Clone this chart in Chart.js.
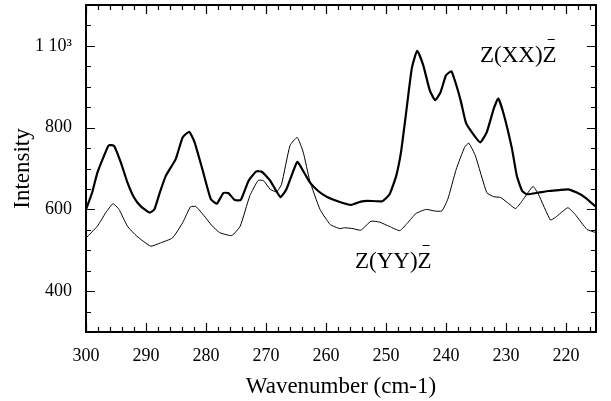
<!DOCTYPE html>
<html>
<head>
<meta charset="utf-8">
<script src="https://cdn.jsdelivr.net/npm/chart.js@4"></script>
<style>
html,body{margin:0;padding:0;background:#fff;}
#wrap{width:611px;height:401px;position:relative;}
</style>
</head>
<body>
<div id="wrap"><canvas id="c"></canvas></div>
<script>
// ---- data ----
const xxWave = [300.0,299.0,298.1,297.0,296.2,295.3,294.2,293.1,292.0,290.9,289.4,288.6,287.7,286.7,285.05,283.9,282.8,281.9,280.6,279.2,278.2,277.1,276.3,275.2,274.2,272.9,271.6,270.7,269.3,267.6,266.6,264.8,263.8,262.7,261.3,259.9,257.7,255.8,254.2,253.1,250.6,249.4,248.3,247.5,246.7,245.7,244.8,243.8,242.7,241.8,240.9,240.0,239.1,238.2,237.5,236.7,235.7,234.3,233.2,232.05,231.3,230.4,229.0,228.2,227.3,226.5,224.6,222.9,221.2,219.7,218.2,216.8,215.0];
const xxInt  = [600,640,690,731,757,755,715,666,629,608,592,600,641,682,723,776,790,764,698,625,614,640,640,623,623,670,693,692,670,630,649,716,694,666,645,631,618,611,619,621,620,637,682,740,830,945,988,953,891,867,887,928,938,900,863,813,789,764,789,846,871,834,748,682,645,637,641,645,647,649,641,629,606];
const yyWave = [300.0,298.1,296.7,295.5,294.5,293.1,291.5,289.2,287.6,285.6,283.9,282.6,281.7,280.3,279.0,277.7,275.7,274.3,272.7,271.3,270.4,269.3,268.2,267.4,266.0,264.8,263.8,262.7,261.0,259.3,257.7,256.9,255.5,254.2,252.5,251.1,249.4,247.7,246.4,245.0,243.3,241.9,240.7,239.7,238.3,236.9,236.2,235.1,233.2,232.05,230.9,229.8,228.4,227.3,225.5,224.6,222.6,221.8,219.7,218.5,216.5,215.0];
const yyInt  = [530,559,592,614,600,559,534,510,518,530,567,606,607,584,560,543,536,559,633,671,670,649,643,662,756,776,740,670,600,563,553,555,553,549,571,569,558,548,567,590,600,596,596,625,698,752,762,731,641,631,629,617,602,621,656,637,574,580,604,588,551,543];
const seriesNames = ['Z(XX)Z', 'Z(YY)Z'];
const labelPos = [[234.33, 961], [255.17, 456.7]]; // wavenumber, intensity at label baseline-left
const xTicks = [300,290,280,270,260,250,240,230,220];
const yTicks = [400,600,800,1000];
const yTickLabels = ['400','600','800','1 10\u00B3'];

const toPts = (w, v) => w.map((x, i) => ({x: x, y: v[i]}));
const FONT = "'Liberation Serif', 'Times New Roman', serif";

const framePlugin = {
  id: 'frame',
  afterDatasetsDraw(chart) {
    const {ctx, chartArea: a, scales: {x, y}} = chart;
    ctx.save();
    ctx.strokeStyle = '#000';
    ctx.lineWidth = 2;
    ctx.strokeRect(a.left, a.top, a.right - a.left, a.bottom - a.top);
    ctx.lineWidth = 1.2;
    ctx.beginPath();
    for (let v = 216; v <= 300; v += 2) {
      const px = Math.round(x.getPixelForValue(v)) + 0.5;
      const len = (v % 10 === 0) ? 9 : 5;
      ctx.moveTo(px, a.bottom); ctx.lineTo(px, a.bottom - len);
      ctx.moveTo(px, a.top); ctx.lineTo(px, a.top + len);
    }
    for (let v = 350; v <= 1050; v += 50) {
      const py = Math.round(y.getPixelForValue(v)) + 0.5;
      const len = (v % 200 === 0) ? 9 : 5;
      ctx.moveTo(a.left, py); ctx.lineTo(a.left + len, py);
      ctx.moveTo(a.right, py); ctx.lineTo(a.right - len, py);
    }
    ctx.stroke();
    // series labels with overbar on last Z
    ctx.fillStyle = '#000';
    ctx.font = '23px ' + FONT;
    ctx.textBaseline = 'alphabetic';
    ctx.textAlign = 'left';
    seriesNames.forEach((t, i) => {
      const px = x.getPixelForValue(labelPos[i][0]);
      const py = y.getPixelForValue(labelPos[i][1]);
      ctx.fillText(t, px, py);
      const wAll = ctx.measureText(t).width;
      const right = px + wAll;
      ctx.lineWidth = 1;
      ctx.beginPath();
      ctx.moveTo(right - 9, Math.round(py - 22.5) + 0.5);
      ctx.lineTo(right - 2, Math.round(py - 22.5) + 0.5);
      ctx.stroke();
    });
    ctx.restore();
  }
};

new Chart(document.getElementById('c'), {
  type: 'line',
  data: {
    datasets: [
      {label: seriesNames[0], data: toPts(xxWave, xxInt), borderColor: '#000', borderWidth: 2.2, pointRadius: 0, tension: 0.15, fill: false},
      {label: seriesNames[1], data: toPts(yyWave, yyInt), borderColor: '#000', borderWidth: 1, pointRadius: 0, tension: 0.15, fill: false}
    ]
  },
  options: {
    responsive: true,
    maintainAspectRatio: false,
    animation: false,
    layout: {padding: {left: 0, right: 15, top: 5, bottom: 0}},
    plugins: {legend: {display: false}, tooltip: {enabled: false}},
    scales: {
      x: {
        type: 'linear', min: 215, max: 300, reverse: true, position: 'bottom',
        grid: {display: false, drawTicks: false},
        border: {display: false},
        afterBuildTicks: s => { s.ticks = xTicks.map(v => ({value: v})); },
        afterFit: s => { s.height = 69; s.paddingLeft = 0; s.paddingRight = 0; },
        ticks: {color: '#000', font: {family: FONT, size: 18}, padding: 13, maxRotation: 0,
                callback: v => String(v)},
        title: {display: true, text: 'Wavenumber (cm-1)', color: '#000', font: {family: FONT, size: 23}, padding: {top: 0, bottom: 0}}
      },
      y: {
        type: 'linear', min: 300, max: 1100, position: 'left',
        grid: {display: false, drawTicks: false},
        border: {display: false},
        afterBuildTicks: s => { s.ticks = yTicks.map(v => ({value: v})); },
        afterFit: s => { s.width = 86; s.paddingTop = 0; s.paddingBottom = 0; },
        ticks: {color: '#000', font: {family: FONT, size: 18}, padding: 14,
                callback: (v) => yTickLabels[yTicks.indexOf(v)]},
        title: {display: true, text: 'Intensity', color: '#000', font: {family: FONT, size: 23}, padding: {top: 9, bottom: 0}}
      }
    }
  },
  plugins: [framePlugin]
});
</script>
</body>
</html>
